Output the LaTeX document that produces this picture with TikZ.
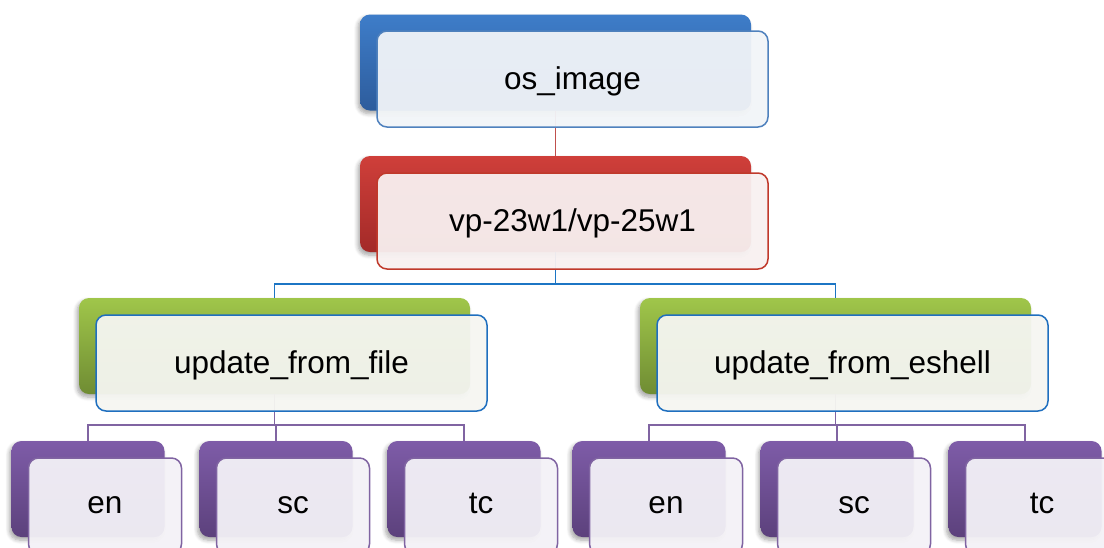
\documentclass[tikz,border=0pt]{standalone}
\usepackage{fontspec}
\setmainfont{Liberation Sans}
\usetikzlibrary{shadows.blur}
\definecolor{bTop}{HTML}{3E7DC9}\definecolor{bBot}{HTML}{2D5C9C}
\definecolor{bFill}{HTML}{F1F4F8}\definecolor{bLine}{HTML}{4F81BD}
\definecolor{rTop}{HTML}{CF3F3A}\definecolor{rBot}{HTML}{A32A28}
\definecolor{rFill}{HTML}{F8F0F0}\definecolor{rLine}{HTML}{C0392B}
\definecolor{gTop}{HTML}{A0C64A}\definecolor{gBot}{HTML}{6F8C33}
\definecolor{gFill}{HTML}{F5F6F1}\definecolor{gLine}{HTML}{1F6FBF}
\definecolor{pTop}{HTML}{7E5CA8}\definecolor{pBot}{HTML}{5C417C}
\definecolor{pFill}{HTML}{F3F1F7}\definecolor{pLine}{HTML}{8064A2}
\definecolor{cRed}{HTML}{C0504D}\definecolor{cBlue}{HTML}{1C75C4}\definecolor{cPurple}{HTML}{8064A2}
\tikzset{
  backbox/.style={rectangle, rounded corners=10pt, inner sep=0pt, draw=none,
    blur shadow={shadow xshift=-2pt, shadow yshift=-3pt, shadow opacity=35, shadow blur steps=6, shadow blur radius=4pt}},
  bigbox/.style={minimum width=391pt, minimum height=96pt, text height=24pt, text depth=4pt},
  smallbox/.style={minimum width=153pt, minimum height=96pt, text height=20pt, text depth=6pt},
  frontbox/.style={rectangle, rounded corners=10pt, inner sep=0pt, line width=1.5pt,
    fill opacity=0.95, text opacity=1, font=\fontsize{31.5}{36}\selectfont},
  conn/.style={line width=1.5pt},
}
\begin{document}
\begin{tikzpicture}[x=1pt,y=-1pt]
\useasboundingbox (0,0) rectangle (1104,547);
% back boxes
\node[backbox,bigbox,top color=bTop,bottom color=bBot] (osb) at (555.5,62.5) {};
\node[backbox,bigbox,top color=rTop,bottom color=rBot] (vpb) at (555.5,204) {};
\node[backbox,bigbox,top color=gTop,bottom color=gBot] (gfb) at (274.5,346) {};
\node[backbox,bigbox,top color=gTop,bottom color=gBot] (geb) at (835.5,346) {};
\foreach \n/\x in {fen/88,fsc/276,ftc/464,een/649,esc/837,etc/1025}{
  \node[backbox,smallbox,top color=pTop,bottom color=pBot] (\n b) at (\x,489) {};
}
% connectors
\draw[conn,cRed] (osb.south) -- (vpb.north);
\draw[conn,cBlue] (vpb.south) -- ++(0,32) -| (gfb.north);
\draw[conn,cBlue] (vpb.south) -- ++(0,32) -| (geb.north);
\foreach \n in {fen,fsc,ftc}{\draw[conn,cPurple] (gfb.south) -- ++(0,31) -| (\n b.north);}
\foreach \n in {een,esc,etc}{\draw[conn,cPurple] (geb.south) -- ++(0,31) -| (\n b.north);}
% front boxes
\node[frontbox,bigbox,fill=bFill,draw=bLine] (os) at (572.5,79) {os\_image};
\node[frontbox,bigbox,fill=rFill,draw=rLine] (vp) at (572.5,221) {vp-23w1/vp-25w1};
\node[frontbox,bigbox,fill=gFill,draw=gLine] (gf) at (291.5,363) {update\_from\_file};
\node[frontbox,bigbox,fill=gFill,draw=gLine] (ge) at (852.5,363) {update\_from\_eshell};
\foreach \n/\x/\t in {fen/88/en,fsc/276/sc,ftc/464/tc,een/649/en,esc/837/sc,etc/1025/tc}{
  \node[frontbox,smallbox,fill=pFill,draw=pLine] (\n) at (\x+17,506) {\t};
}
\end{tikzpicture}
\end{document}
